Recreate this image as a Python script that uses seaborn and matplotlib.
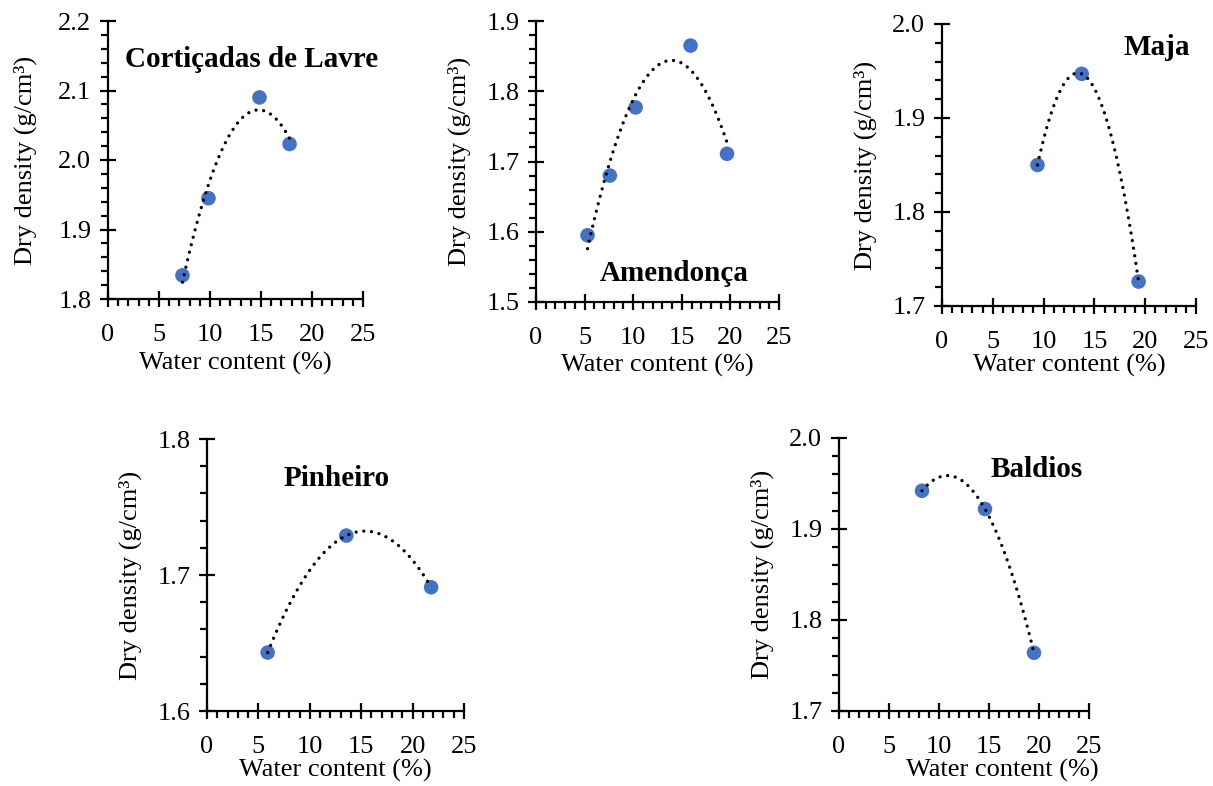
import numpy as np
import pandas as pd
import matplotlib
matplotlib.use("Agg")
import matplotlib.pyplot as plt
import seaborn as sns
from matplotlib.ticker import MultipleLocator, FormatStrFormatter

# ---- data ----
names = ["Cortiçadas de Lavre", "Amendonça", "Maja", "Pinheiro", "Baldios"]
wc_cort = [7.3, 9.85, 14.85, 17.8]
dd_cort = [1.834, 1.945, 2.090, 2.023]
wc_amen = [5.3, 7.6, 10.25, 15.9, 19.65]
dd_amen = [1.595, 1.680, 1.777, 1.865, 1.711]
wc_maja = [9.4, 13.75, 19.35]
dd_maja = [1.850, 1.947, 1.726]
wc_pinh = [5.9, 13.55, 21.8]
dd_pinh = [1.643, 1.729, 1.691]
wc_bald = [8.3, 14.6, 19.5]
dd_bald = [1.942, 1.922, 1.764]

y_limits = [(1.8, 2.2), (1.5, 1.9), (1.7, 2.0), (1.6, 1.8), (1.7, 2.0)]
y_major = [0.1, 0.1, 0.1, 0.1, 0.1]
y_minor = [0.02, 0.02, 0.02, 0.02, 0.02]

sns.set_theme(style="white")
plt.rcParams['font.family'] = ['Liberation Serif', 'DejaVu Serif']

W, H = 1213, 786
fig = plt.figure(figsize=(W / 100, H / 100), dpi=100)

# axes boxes in pixels: left, right, top, bottom
boxes = [(108, 363, 21, 299), (536, 779, 21, 302), (942, 1196, 24, 306),
         (207, 464, 439, 711), (839, 1089, 438, 711)]
# label positions (axes fraction) and alignment
label_pos = [(0.067, 0.86, 'left'), (0.263, 0.103, 'left'), (0.976, 0.918, 'right'),
             (0.296, 0.853, 'left'), (0.608, 0.883, 'left')]
# x-label: (x-center shift px, distance below axis px); y-label distance left of spine px
xlab_off = [(0, 64), (0, 63), (0, 59), (0, 59), (38, 59)]
ylab_off = [83, 77, 77, 77, 77]

datasets = [(wc_cort, dd_cort), (wc_amen, dd_amen), (wc_maja, dd_maja),
            (wc_pinh, dd_pinh), (wc_bald, dd_bald)]

blue = "#4472C4"
FS = 19
for i, (name, (xs, ys)) in enumerate(zip(names, datasets)):
    l, r, t, b = boxes[i]
    wpx, hpx = r - l, b - t
    ax = fig.add_axes([l / W, 1 - b / H, wpx / W, hpx / H])
    df = pd.DataFrame({"wc": xs, "dd": ys})
    sns.scatterplot(data=df, x="wc", y="dd", ax=ax, color=blue, s=110,
                    edgecolor="none", zorder=3, clip_on=False)
    # quadratic trendline
    coef = np.polyfit(xs, ys, 2)
    xx = np.linspace(min(xs), max(xs), 200)
    ax.plot(xx, np.polyval(coef, xx), color="black", lw=2.4,
            linestyle=(0, (0.01, 2.3)), dash_capstyle="round", zorder=4)

    ax.set_xlim(0, 25)
    ax.set_ylim(*y_limits[i])
    ax.xaxis.set_major_locator(MultipleLocator(5))
    ax.xaxis.set_minor_locator(MultipleLocator(1))
    ax.yaxis.set_major_locator(MultipleLocator(y_major[i]))
    ax.yaxis.set_minor_locator(MultipleLocator(y_minor[i]))
    ax.yaxis.set_major_formatter(FormatStrFormatter('%.1f'))
    for side in ["top", "right"]:
        ax.spines[side].set_visible(False)
    for side in ["left", "bottom"]:
        ax.spines[side].set_color("black")
        ax.spines[side].set_linewidth(1.6)
    ax.tick_params(axis="both", which="major", direction="inout", length=12,
                   width=1.6, color="black", labelsize=FS, pad=6,
                   bottom=True, left=True, labelcolor="black")
    ax.tick_params(axis="both", which="minor", direction="out", length=5,
                   width=1.6, color="black", bottom=True, left=True)
    ax.tick_params(axis="x", which="major", pad=12)
    ax.set_xlabel("Water content (%)", fontsize=FS, color="black")
    ax.set_ylabel("Dry density (g/cm³)", fontsize=FS, color="black")
    dx, dy = xlab_off[i]
    ax.xaxis.set_label_coords(0.5 + dx / wpx, -dy / hpx)
    ax.xaxis.label.set_va("center")
    ax.yaxis.set_label_coords(-ylab_off[i] / wpx, 0.5)
    ax.yaxis.label.set_va("center")
    ax.grid(False)
    ax.set_facecolor("white")
    fx, fy, ha = label_pos[i]
    ax.text(fx, fy, name, transform=ax.transAxes, fontsize=21,
            fontweight="bold", ha=ha, va="center", color="black", clip_on=False)

fig.savefig("out.png", dpi=100, facecolor="white")
